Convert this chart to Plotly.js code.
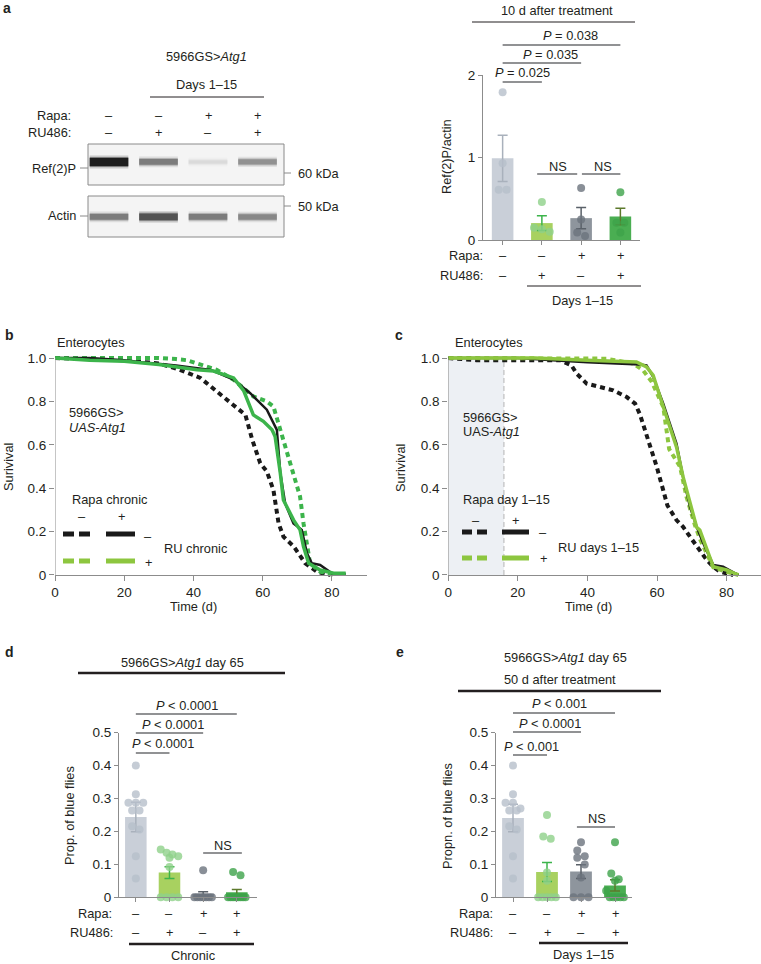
<!DOCTYPE html>
<html><head><meta charset="utf-8">
<script src="https://cdn.plot.ly/plotly-3.0.1.min.js"></script>
<style>html,body{margin:0;padding:0;background:#fff}#chart{width:761px;height:964px}</style>
</head><body><div id="chart"></div>
<script>
// ---------------- DATA ----------------
const lanes = [1, 2, 3, 4];
const ref2pBand = [1.0, 0.55, 0.1, 0.45];
const actinBand = [0.55, 0.75, 0.55, 0.5];

const rapaSigns = ['–', '–', '+', '+'];
const ruSigns = ['–', '+', '–', '+'];
const groupIdx = [0, 1, 2, 3];

// panel a: Ref(2)P/actin
const aMean = [0.99, 0.205, 0.265, 0.285];
const aSem = [0.28, 0.09, 0.13, 0.1];
const aPoints = [[1.79, 0.93, 0.61, 0.61], [0.46, 0.15, 0.13, 0.1], [0.63, 0.25, 0.09, 0.05], [0.58, 0.21, 0.21, 0.09]];

// panel b survival (chronic)
const bDashBlackDay = [0, 10, 20, 30, 36, 42, 46, 52, 55, 57, 59.3, 61.2, 63.1, 64.6, 66, 69, 72.3, 75.7, 79.5];
const bDashBlackSurv = [1, 0.995, 0.99, 0.975, 0.946, 0.908, 0.854, 0.777, 0.738, 0.623, 0.515, 0.477, 0.392, 0.238, 0.177, 0.131, 0.054, 0.015, 0];
const bSolidBlackDay = [0, 10, 20, 25, 35, 45, 51.6, 56.4, 61.2, 64.1, 65.1, 66.5, 68.9, 71.3, 72.8, 74.2, 76.6, 80, 84];
const bSolidBlackSurv = [1, 1, 0.99, 0.98, 0.965, 0.945, 0.9, 0.838, 0.762, 0.669, 0.47, 0.33, 0.238, 0.208, 0.1, 0.054, 0.046, 0.008, 0.005];
const bSolidGreenDay = [0, 10, 20, 30, 41, 45.8, 51.6, 54.5, 57.3, 60.2, 62.7, 63.6, 65.1, 66, 68.9, 70.8, 71.8, 73.3, 76.6, 80.5, 84];
const bSolidGreenSurv = [1, 0.99, 0.985, 0.97, 0.946, 0.94, 0.908, 0.85, 0.738, 0.708, 0.669, 0.638, 0.469, 0.346, 0.254, 0.208, 0.131, 0.054, 0.023, 0.008, 0.008];
const bDashGreenDay = [0, 20, 30, 35, 38, 46.7, 51.6, 57.3, 61.2, 63.1, 65.1, 67, 68.9, 70.8, 71.8, 72.8, 73.7, 76.6, 80.5];
const bDashGreenSurv = [1, 1, 1, 0.995, 0.99, 0.946, 0.9, 0.823, 0.8, 0.777, 0.669, 0.562, 0.454, 0.362, 0.238, 0.146, 0.054, 0.015, 0];

// panel c survival (days 1-15)
const cTreatEnd = 16;
const cDashBlackDay = [0, 8, 20, 32.1, 35.4, 36.9, 39.8, 43.6, 47.4, 51.3, 53.7, 55.1, 58, 59.9, 61.8, 63, 65.6, 67.5, 69.5, 72, 74.3, 76.2, 78.1, 81.9];
const cDashBlackSurv = [1, 0.99, 0.99, 0.99, 0.966, 0.928, 0.882, 0.867, 0.851, 0.82, 0.79, 0.74, 0.6, 0.5, 0.39, 0.32, 0.253, 0.222, 0.176, 0.12, 0.069, 0.038, 0.015, 0];
const cSolidBlackDay = [0, 20, 30, 40, 55, 57, 58.9, 61.8, 63.7, 65.6, 67.5, 69.5, 71.4, 73.3, 76.2, 79, 83.4];
const cSolidBlackSurv = [1, 1, 0.99, 0.98, 0.97, 0.966, 0.913, 0.79, 0.698, 0.606, 0.452, 0.314, 0.222, 0.146, 0.046, 0.038, 0];
const cDashGreenDay = [0, 30, 41.7, 45.5, 53.2, 56, 58.5, 61.8, 63.5, 66.6, 68.5, 70.9, 72.5, 76.2, 80, 83.4];
const cDashGreenSurv = [1, 1, 1, 0.997, 0.974, 0.943, 0.89, 0.775, 0.58, 0.5, 0.36, 0.23, 0.16, 0.035, 0.015, 0];
const cSolidGreenDay = [0, 25, 41.7, 54.1, 57, 58.9, 61.8, 63.7, 65.6, 67.5, 69.5, 71.4, 72.3, 76.2, 80, 83.4];
const cSolidGreenSurv = [1, 1, 0.989, 0.982, 0.959, 0.92, 0.775, 0.683, 0.59, 0.452, 0.33, 0.22, 0.207, 0.038, 0.023, 0];

// panel d: chronic, day 65
const dMean = [0.244, 0.075, 0.011, 0.015];
const dSem = [0.045, 0.018, 0.006, 0.009];
const dPoints = [[0.40, 0.313, 0.287, 0.287, 0.287, 0.264, 0.264, 0.216, 0.206, 0.125, 0.057],
                 [0.145, 0.135, 0.13, 0.125, 0.12, 0.092, 0, 0, 0, 0],
                 [0.082, 0, 0, 0, 0, 0, 0, 0],
                 [0.077, 0.067, 0, 0, 0, 0, 0, 0, 0, 0]];
// panel e: days 1-15, day 65
const eMean = [0.241, 0.077, 0.078, 0.036];
const eSem = [0.042, 0.029, 0.021, 0.017];
const ePoints = [[0.40, 0.313, 0.287, 0.287, 0.27, 0.264, 0.264, 0.216, 0.206, 0.125, 0.057],
                 [0.25, 0.185, 0.178, 0.075, 0.05, 0, 0, 0, 0, 0],
                 [0.167, 0.142, 0.125, 0.12, 0.1, 0.06, 0, 0, 0],
                 [0.167, 0.072, 0.055, 0.05, 0.02, 0, 0, 0, 0, 0]];

// ---------------- STYLE ----------------
const W = 761, H = 964;
const FONT = 'Liberation Sans, Arial, Helvetica, sans-serif';
const INK = '#231f20';
const AX = '#8c8c8c';
const SIG = '#6d6e71';
const TXT = 12.8;
const barFill = ['#c9cfd8', '#a8d160', '#8e959d', '#4aae52'];
const ptFill = ['#b7bfca', '#8fd18a', '#6c737d', '#3da34a'];
const errCol = ['#a9b1bc', '#3cb44b', '#5a6169', '#5d7a2c'];
const BLACK = '#1a1a1a', GREEN_B = '#3cb44b', GREEN_L = '#8dc63f';

const fx = p => p / W;
const fy = p => 1 - p / H;

const annotations = [];
function T(text, x, y, o) {
  o = o || {};
  annotations.push({
    text: text, x: o.xref ? x : fx(x), y: fy(y), xref: o.xref || 'paper', yref: 'paper',
    showarrow: false, xanchor: o.xa || 'center', yanchor: 'middle', textangle: o.angle || 0,
    font: {family: FONT, size: o.size || TXT, color: o.color || INK}
  });
}
const shapes = [];
function L(x0, y0, x1, y1, o) {
  o = o || {};
  shapes.push({
    type: 'line', xref: o.xref || 'paper', yref: o.yref || 'paper',
    x0: o.xref ? x0 : fx(x0), x1: o.xref ? x1 : fx(x1),
    y0: o.yref ? y0 : fy(y0), y1: o.yref ? y1 : fy(y1),
    line: {color: o.color || INK, width: o.width || 1, dash: o.dash || 'solid'}, layer: o.layer || 'above'
  });
}
function R(x0, y0, x1, y1, fill, lineCol) {
  shapes.push({type: 'rect', xref: 'paper', yref: 'paper', x0: fx(x0), x1: fx(x1), y0: fy(y1), y1: fy(y0),
    fillcolor: fill, line: {color: lineCol || 'rgba(0,0,0,0)', width: lineCol ? 1 : 0}, layer: 'below'});
}

const traces = [];

// ---------------- BLOT ----------------
R(88, 144, 284, 185, '#f4f4f4', '#8a8a8a');
R(88, 196, 284, 237, '#f4f4f4', '#8a8a8a');
function bandTraces(intens, row) {
  lanes.forEach((ln, i) => {
    const v = intens[i];
    const g = Math.round(238 - 225 * v);
    const w = 3 + 5 * v;
    [[w + 5, 0.18], [w + 2, 0.4], [w, 0.85]].forEach(([lw, op]) => {
      traces.push({type: 'scatter', mode: 'lines', xaxis: 'x', yaxis: 'y', x: [ln - 0.39, ln + 0.39], y: [row, row],
        line: {color: `rgb(${g},${g},${g})`, width: lw}, opacity: op, hoverinfo: 'skip'});
    });
  });
}
bandTraces(ref2pBand, 1);
bandTraces(actinBand, 0);

T('5966GS&gt;<i>Atg1</i>', 207, 56);
T('Days 1–15', 207, 84);
L(150, 97, 264, 97, {width: 1});
T('Rapa:', 73, 115, {xa: 'right'});
T('RU486:', 73, 133, {xa: 'right'});
lanes.forEach((ln, i) => { T(rapaSigns[i], ln, 115, {xref: 'x'}); T(ruSigns[i], ln, 133, {xref: 'x'}); });
T('Ref(2)P', 78, 168, {xa: 'right'});
L(80, 168, 88, 168, {color: '#8a8a8a'});
T('Actin', 78, 216, {xa: 'right'});
L(80, 216, 88, 216, {color: '#8a8a8a'});
L(284, 173, 291, 173, {color: '#8a8a8a'});
T('60 kDa', 296, 173, {xa: 'left'});
L(284, 206, 291, 206, {color: '#8a8a8a'});
T('50 kDa', 296, 206, {xa: 'left'});

// ---------------- BAR PANELS ----------------
function swarm(vals, thr, step, maxSpread) {
  const s = [...vals].sort((a, b) => b - a);
  const xs = [], ys = [];
  let i = 0;
  while (i < s.length) {
    let j = i;
    while (j < s.length && s[i] - s[j] <= thr) j++;
    const n = j - i;
    const st = n > 1 ? Math.min(step, 2 * maxSpread / (n - 1)) : 0;
    for (let k = 0; k < n; k++) { xs.push((k - (n - 1) / 2) * st); ys.push(s[i + k]); }
    i = j;
  }
  return {xs, ys};
}
function barPanel(xa, ya, means, sems, pts, thr, step, barW) {
  groupIdx.forEach(g => {
    traces.push({type: 'bar', xaxis: xa, yaxis: ya, x: [g], y: [means[g]], width: barW,
      marker: {color: barFill[g], line: {width: 0}},
      error_y: {type: 'data', array: [sems[g]], visible: true, color: errCol[g], thickness: 1.5, width: 5},
      hoverinfo: 'skip'});
  });
  groupIdx.forEach(g => {
    const sw = swarm(pts[g], thr, step, 0.26);
    traces.push({type: 'scatter', mode: 'markers', xaxis: xa, yaxis: ya, x: sw.xs.map(d => g + d), y: sw.ys,
      marker: {color: ptFill[g], size: 8, opacity: 0.8, line: {width: 0}}, cliponaxis: false, hoverinfo: 'skip'});
  });
}
barPanel('x2', 'y2', aMean, aSem, aPoints, 0.08, 0.2, 0.55);
barPanel('x5', 'y5', dMean, dSem, dPoints, 0.02, 0.22, 0.64);
barPanel('x6', 'y6', eMean, eSem, ePoints, 0.02, 0.22, 0.64);

// panel a annotations
T('10 d after treatment', 557, 11);
L(472, 22, 635, 22, {width: 1.2});
L(0, 45, 3, 45, {xref: 'x2', color: SIG, width: 1.3});
T('<i>P</i> = 0.038', 570, 36);
L(0, 63, 2, 63, {xref: 'x2', color: SIG, width: 1.3});
T('<i>P</i> = 0.035', 550, 54);
L(0, 82, 1, 82, {xref: 'x2', color: SIG, width: 1.3});
T('<i>P</i> = 0.025', 522, 73);
L(0.88, 174, 1.9, 174, {xref: 'x2', color: SIG, width: 1.3});
T('NS', 558, 166);
L(2.02, 174, 3.0, 174, {xref: 'x2', color: SIG, width: 1.3});
T('NS', 603, 166);
T('Ref(2)P/actin', 447, 157, {angle: -90});
T('Rapa:', 485, 256, {xa: 'right'});
T('RU486:', 485, 275, {xa: 'right'});
groupIdx.forEach(g => { T(rapaSigns[g], g, 256, {xref: 'x2'}); T(ruSigns[g], g, 275, {xref: 'x2'}); });
L(527, 286, 641, 286, {width: 1.2});
T('Days 1–15', 582, 300);

// panel d annotations
T('5966GS&gt;<i>Atg1</i> day 65', 182, 662);
L(78, 673, 285, 673, {width: 2.5});
L(0, 714, 3, 714, {xref: 'x5', color: SIG, width: 1.3});
T('<i>P</i> &lt; 0.0001', 187, 705);
L(0, 733, 2, 733, {xref: 'x5', color: SIG, width: 1.3});
T('<i>P</i> &lt; 0.0001', 173, 724);
L(0, 753, 1, 753, {xref: 'x5', color: SIG, width: 1.3});
T('<i>P</i> &lt; 0.0001', 163, 743);
L(2.0, 853, 3.15, 853, {xref: 'x5', color: SIG, width: 1.3});
T('NS', 223, 845);
T('Prop. of blue flies', 69, 816, {angle: -90});
T('Rapa:', 114, 913, {xa: 'right'});
T('RU486:', 115, 932, {xa: 'right'});
groupIdx.forEach(g => { T(rapaSigns[g], g, 913, {xref: 'x5'}); T(ruSigns[g], g, 932, {xref: 'x5'}); });
L(129, 944, 254, 944, {width: 2.5});
T('Chronic', 193, 955);

// panel e annotations
T('5966GS&gt;<i>Atg1</i> day 65', 565, 657);
T('50 d after treatment', 560, 679);
L(458, 691, 661, 691, {width: 2.5});
L(0, 713, 3, 713, {xref: 'x6', color: SIG, width: 1.3});
T('<i>P</i> &lt; 0.001', 559, 703);
L(0, 732, 2, 732, {xref: 'x6', color: SIG, width: 1.3});
T('<i>P</i> &lt; 0.0001', 550, 723);
L(0, 755, 1, 755, {xref: 'x6', color: SIG, width: 1.3});
T('<i>P</i> &lt; 0.001', 531, 746);
L(1.88, 827, 3.0, 827, {xref: 'x6', color: SIG, width: 1.3});
T('NS', 597, 818);
T('Propn. of blue flies', 447, 816, {angle: -90});
T('Rapa:', 495, 913, {xa: 'right'});
T('RU486:', 495, 932, {xa: 'right'});
groupIdx.forEach(g => { T(rapaSigns[g], g, 913, {xref: 'x6'}); T(ruSigns[g], g, 932, {xref: 'x6'}); });
L(539, 943, 628, 943, {width: 2.5});
T('Days 1–15', 583, 954.5);

// ---------------- SURVIVAL ----------------
function curve(xa, ya, x, y, color, width, dash) {
  traces.push({type: 'scatter', mode: 'lines', xaxis: xa, yaxis: ya, x: x, y: y,
    line: {color: color, width: width, dash: dash || 'solid'}, hoverinfo: 'skip'});
}
const DASH = '5px,4px';
curve('x3', 'y3', bDashBlackDay, bDashBlackSurv, BLACK, 4, DASH);
curve('x3', 'y3', bDashGreenDay, bDashGreenSurv, GREEN_B, 4, DASH);
curve('x3', 'y3', bSolidBlackDay, bSolidBlackSurv, BLACK, 2.5);
curve('x3', 'y3', bSolidGreenDay, bSolidGreenSurv, GREEN_B, 3.5);

shapes.push({type: 'rect', xref: 'x4', yref: 'y4', x0: 0, x1: cTreatEnd, y0: 0, y1: 1, fillcolor: '#edf0f4', line: {width: 0}, layer: 'below'});
L(cTreatEnd, 0, cTreatEnd, 0.985, {xref: 'x4', yref: 'y4', color: '#b5b5b5', width: 1, dash: '5px,3px', layer: 'below'});
curve('x4', 'y4', cDashBlackDay, cDashBlackSurv, BLACK, 4, DASH);
curve('x4', 'y4', cDashGreenDay, cDashGreenSurv, GREEN_L, 4, DASH);
curve('x4', 'y4', cSolidBlackDay, cSolidBlackSurv, BLACK, 2.5);
curve('x4', 'y4', cSolidGreenDay, cSolidGreenSurv, GREEN_L, 3.5);

L(0, 0, 0, 1, {xref: 'x3', yref: 'y3', color: AX});
L(0, 0, 0, 1, {xref: 'x4', yref: 'y4', color: AX});

// panel b texts + legend
T('Enterocytes', 55, 342, {xa: 'left'});
T('5966GS&gt;', 67, 412, {xa: 'left'});
T('<i>UAS-Atg1</i>', 67, 427, {xa: 'left'});
T('Surivival', 8, 467, {angle: -90});
T('Time (d)', 193, 606);
T('Rapa chronic', 70, 499, {xa: 'left'});
T('–', 82, 516); T('+', 121, 516);
L(63, 534, 91, 534, {color: BLACK, width: 5, dash: '11px,5px'});
L(106, 534, 135, 534, {color: BLACK, width: 5});
T('–', 148, 536);
T('RU chronic', 162, 548, {xa: 'left'});
L(63, 561, 91, 561, {color: GREEN_L, width: 5, dash: '11px,5px'});
L(106, 561, 135, 561, {color: GREEN_L, width: 5});
T('+', 148, 562);

// panel c texts + legend
T('Enterocytes', 453, 342, {xa: 'left'});
T('5966GS&gt;', 461, 417, {xa: 'left'});
T('UAS-<i>Atg1</i>', 461, 432, {xa: 'left'});
T('Surivival', 400, 468, {angle: -90});
T('Time (d)', 588, 606);
T('Rapa day 1–15', 461, 499, {xa: 'left'});
T('–', 476, 520); T('+', 515, 520);
L(462, 532, 488, 532, {color: BLACK, width: 5, dash: '10px,5px'});
L(502, 532, 529, 532, {color: BLACK, width: 5});
T('–', 543, 532);
T('RU days 1–15', 556, 547, {xa: 'left'});
L(462, 558, 488, 558, {color: GREEN_L, width: 5, dash: '10px,5px'});
L(502, 558, 529, 558, {color: GREEN_L, width: 5});
T('+', 543, 558);

// panel letters
[['a', 1, 8], ['b', 3, 335], ['c', 393, 335], ['d', 3, 652], ['e', 394, 652]].forEach(([t, x, y]) =>
  T('<b>' + t + '</b>', x, y, {xa: 'left', size: 14}));

// ---------------- AXES ----------------
const tickFont = {family: FONT, size: 13.5, color: INK};
function barX(dom, range, ya) {
  return {domain: dom, range: range, anchor: ya, tickvals: groupIdx, ticktext: groupIdx.map(() => ''),
    ticks: 'outside', ticklen: 4, tickcolor: AX, showline: true, linecolor: AX, linewidth: 1,
    showgrid: false, zeroline: false, fixedrange: true};
}
function barY(dom, range, xa, vals, text) {
  return {domain: dom, range: range, anchor: xa, tickvals: vals, ticktext: text, tickfont: tickFont,
    ticks: 'outside', ticklen: 4, tickcolor: AX, showline: true, linecolor: AX, linewidth: 1,
    showgrid: false, zeroline: false, fixedrange: true};
}
function survX(dom, range) {
  return {domain: dom, range: range, anchor: 'free', position: fy(575), tickvals: [0, 20, 40, 60, 80],
    tickfont: tickFont, ticks: 'outside', ticklen: 5, tickcolor: AX, showline: true, linecolor: AX,
    linewidth: 1, showgrid: false, zeroline: false, fixedrange: true};
}
function survY(xa) {
  return {domain: [fy(581.5), fy(351.5)], range: [-0.03, 1.03], anchor: xa,
    tickvals: [0, 0.2, 0.4, 0.6, 0.8, 1.0], ticktext: ['0', '0.2', '0.4', '0.6', '0.8', '1.0'],
    tickfont: tickFont, ticks: 'outside', ticklen: 5, tickcolor: AX, showline: false,
    showgrid: false, zeroline: false, fixedrange: true};
}

const layout = {
  width: W, height: H, margin: {l: 0, r: 0, t: 0, b: 0}, paper_bgcolor: '#fff', plot_bgcolor: 'rgba(0,0,0,0)',
  showlegend: false, barmode: 'overlay', font: {family: FONT, color: INK},
  xaxis: {domain: [fx(88), fx(284)], range: [0.576, 4.535], visible: false, fixedrange: true},
  yaxis: {domain: [fy(237), fy(144)], range: [-0.364, 1.327], visible: false, fixedrange: true},
  xaxis2: barX([fx(483), fx(640)], [-0.5, 3.5], 'y2'),
  yaxis2: barY([fy(240), fy(75)], [0, 2], 'x2', [0, 1, 2], ['0', '1', '2']),
  xaxis3: survX([fx(55), fx(366.5)], [0, 90]),
  yaxis3: survY('x3'),
  xaxis4: survX([fx(448.3), 1], [0, 89.9]),
  yaxis4: survY('x4'),
  xaxis5: barX([fx(119), fx(257)], [-0.5, 3.6], 'y5'),
  yaxis5: barY([fy(897.3), fy(732.7)], [0, 0.5], 'x5', [0, 0.1, 0.2, 0.3, 0.4, 0.5], ['0', '0.1', '0.2', '0.3', '0.4', '0.5']),
  xaxis6: barX([fx(496), fx(632)], [-0.5, 3.5], 'y6'),
  yaxis6: barY([fy(897.3), fy(732.7)], [0, 0.5], 'x6', [0, 0.1, 0.2, 0.3, 0.4, 0.5], ['0', '0.1', '0.2', '0.3', '0.4', '0.5']),
  shapes: shapes, annotations: annotations
};
Plotly.newPlot('chart', traces, layout, {staticPlot: true, displayModeBar: false});
</script></body></html>
